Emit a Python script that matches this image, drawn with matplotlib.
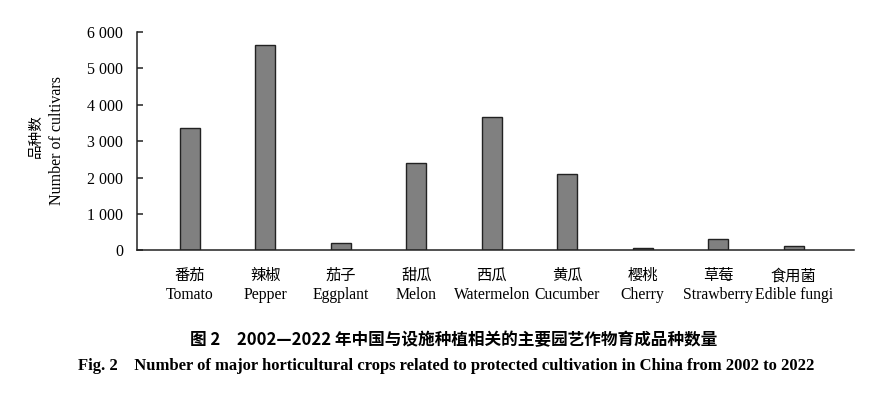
import matplotlib
matplotlib.use('Agg')
import matplotlib.pyplot as plt
import numpy as np

# Data
crops_cn = ["番茄", "辣椒", "茄子", "甜瓜", "西瓜", "黄瓜", "樱桃", "草莓", "食用菌"]
crops_en = ["Tomato", "Pepper", "Eggplant", "Melon", "Watermelon", "Cucumber",
            "Cherry", "Strawberry", "Edible fungi"]
cultivars = [3350, 5640, 210, 2410, 3670, 2090, 60, 310, 120]
y_ticks = [0, 1000, 2000, 3000, 4000, 5000, 6000]

serif = 'Liberation Serif'
cjk = 'Noto Sans CJK SC'

fig = plt.figure(figsize=(8.69, 3.93), dpi=100)
ax = fig.add_axes([0.1577, 0.3626, 0.8250, 0.5560])

x = np.arange(len(cultivars))
ax.bar(x, cultivars, width=0.265, color='#808080', edgecolor='#222222', linewidth=1.0)

ax.set_xlim(-0.7, 8.8)
ax.set_ylim(0, 6000)

# spines
for s in ['top', 'right']:
    ax.spines[s].set_visible(False)
for s in ['left', 'bottom']:
    ax.spines[s].set_linewidth(1.1)
    ax.spines[s].set_color('#222222')

ax.set_yticks(y_ticks)
ax.set_yticklabels([f"{v:,}".replace(",", " ") for v in y_ticks], family=serif, fontsize=11.5)
ax.tick_params(axis='y', direction='in', length=4, width=1.1, color='#222222', pad=10)

# x labels: chinese on ticks, english below
ax.set_xticks(x)
ax.set_xticklabels(crops_cn, family=cjk, fontsize=11)
ax.tick_params(axis='x', length=0, pad=12)
for xi, e in zip(x, crops_en):
    ax.text(xi, -44.5 / 218.5, e, transform=ax.get_xaxis_transform(),
            ha='center', va='center', family=serif, fontsize=11.3)

# y label (two lines)
fig.text(36 / 869, 1 - 136 / 393, "品种数", rotation=90, ha='center', va='center',
         family=cjk, fontsize=10.5)
fig.text(57 / 869, 1 - 140 / 393, "Number of cultivars", rotation=90, ha='center',
         va='center', family=serif, fontsize=11.5)

# captions
fig.text(454 / 869, 1 - 340 / 393, "图 2　2002—2022 年中国与设施种植相关的主要园艺作物育成品种数量",
         ha='center', va='center', family=cjk, fontweight='bold', fontsize=12)
fig.text(446 / 869, 1 - 366 / 393,
         "Fig. 2    Number of major horticultural crops related to protected cultivation in China from 2002 to 2022",
         ha='center', va='center', family=serif, fontweight='bold', fontsize=12)

fig.savefig('out.png', dpi=100)
